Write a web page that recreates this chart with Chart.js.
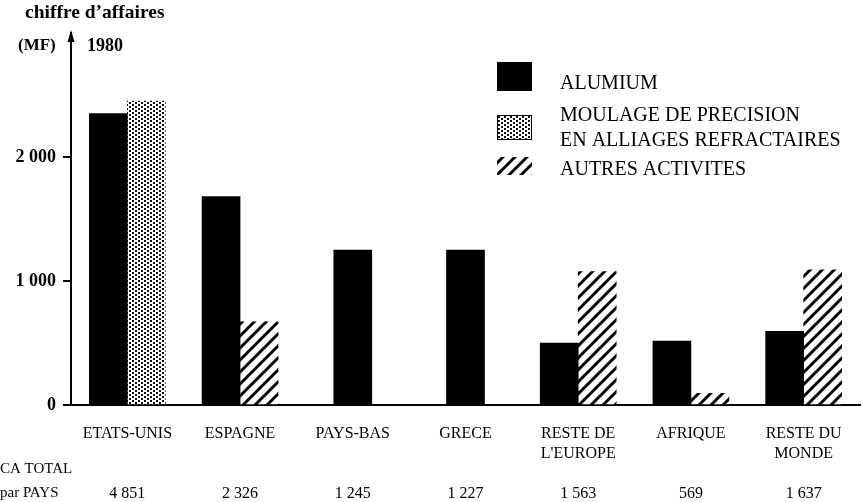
<!DOCTYPE html>
<html>
<head>
<meta charset="utf-8">
<script src="https://cdn.jsdelivr.net/npm/chart.js@4.4.1/dist/chart.umd.min.js"></script>
<style>
  html, body { margin: 0; padding: 0; background: #fff; }
  canvas { display: block; }
</style>
</head>
<body>
<canvas id="chart" width="863" height="502"></canvas>
<script>
/* global Chart */

// pays (une ligne par entrée de tableau)
var pays = [['ETATS-UNIS'], ['ESPAGNE'], ['PAYS-BAS'], ['GRECE'], ['RESTE DE', 'L\'EUROPE'], ['AFRIQUE'], ['RESTE DU', 'MONDE']];
// chiffre d'affaires 1980, MF
var alumium = [2350, 1680, 1250, 1250, 500, 515, 595];
var moulage = [2450, null, null, null, null, null, null];
var autres = [null, 670, null, null, 1075, 95, 1090];
var caTotal = [4851, 2326, 1245, 1227, 1563, 569, 1637];
var yTicks = [0, 1000, 2000];

function fmt(n) {
  return String(n).replace(/\B(?=(\d{3})+(?!\d))/g, ' ');
}

function stipple() {
  var c = document.createElement('canvas');
  c.width = 6; c.height = 4;
  var g = c.getContext('2d');
  g.fillStyle = '#fff';
  g.fillRect(0, 0, 6, 4);
  g.fillStyle = '#111';
  g.fillRect(0, 0, 2, 2);
  g.fillRect(3, 2, 2, 2);
  return g.createPattern(c, 'repeat');
}

function hatch() {
  var s = 12;
  var c = document.createElement('canvas');
  c.width = s; c.height = s;
  var g = c.getContext('2d');
  g.fillStyle = '#fff';
  g.fillRect(0, 0, s, s);
  g.strokeStyle = '#000';
  g.lineWidth = 3;
  g.beginPath();
  g.moveTo(-s / 2, s / 2); g.lineTo(s / 2, -s / 2);
  g.moveTo(0, s); g.lineTo(s, 0);
  g.moveTo(s / 2, s * 1.5); g.lineTo(s * 1.5, s / 2);
  g.stroke();
  return g.createPattern(c, 'repeat');
}

var labels = pays.map(function (p, i) {
  var l = p.slice();
  while (l.length < 3) l.push('');
  l.push(fmt(caTotal[i]));
  return l;
});

var serif = '"Liberation Serif", "DejaVu Serif", serif';
Chart.defaults.font.family = serif;
Chart.defaults.color = '#000';

var decor = {
  id: 'decor',
  afterDraw: function (chart) {
    var ctx = chart.ctx;
    var a = chart.chartArea;
    ctx.save();
    // fleche de l'axe
    ctx.fillStyle = '#000';
    ctx.beginPath();
    ctx.moveTo(a.left, a.top - 3);
    ctx.lineTo(a.left - 3.5, a.top + 9);
    ctx.lineTo(a.left + 3.5, a.top + 9);
    ctx.closePath();
    ctx.fill();

    ctx.textBaseline = 'middle';
    ctx.textAlign = 'left';
    ctx.font = 'bold 19.5px ' + serif;
    ctx.fillText('chiffre d\u2019affaires', 25, 13);
    ctx.font = 'bold 17px ' + serif;
    ctx.fillText('(MF)', 18, 46);
    ctx.font = 'bold 18px ' + serif;
    ctx.fillText('1980', 87, 46);

    ctx.font = '15px ' + serif;
    ctx.fillText('CA TOTAL', 0, 469);
    ctx.fillText('par PAYS', 0, 493);

    // legende
    var boxes = [
      { y: 62, h: 29, text: [84] },
      { y: 115, h: 25, text: [116, 141] },
      { y: 157, h: 18, text: [170] }
    ];
    chart.data.datasets.forEach(function (ds, i) {
      var b = boxes[i];
      ctx.fillStyle = ds.backgroundColor;
      ctx.fillRect(497, b.y, 35, b.h);
      if (i === 1) {
        ctx.strokeStyle = '#000';
        ctx.lineWidth = 1;
        ctx.strokeRect(497.5, b.y + 0.5, 34, b.h - 1);
      }
      ctx.fillStyle = '#000';
      ctx.font = '20px ' + serif;
      ds.label.split('\n').forEach(function (t, k) {
        ctx.fillText(t, 560, b.text[k]);
      });
    });
    ctx.restore();
  }
};

new Chart(document.getElementById('chart'), {
  type: 'bar',
  data: {
    labels: labels,
    datasets: [
      { label: 'ALUMIUM', data: alumium, backgroundColor: '#000' },
      { label: 'MOULAGE DE PRECISION\nEN ALLIAGES REFRACTAIRES', data: moulage, backgroundColor: stipple() },
      { label: 'AUTRES ACTIVITES', data: autres, backgroundColor: hatch() }
    ]
  },
  options: {
    responsive: false,
    animation: false,
    devicePixelRatio: 1,
    layout: { padding: { top: 33, right: 3, left: 0, bottom: 0 } },
    datasets: { bar: { skipNull: true, barThickness: 38 } },
    plugins: {
      legend: { display: false },
      tooltip: { enabled: false }
    },
    scales: {
      x: {
        grid: { display: false },
        border: { display: true, color: '#000', width: 2 },
        ticks: {
          padding: 11,
          maxRotation: 0,
          autoSkip: false,
          font: { size: 16, lineHeight: 1.25 }
        },
        afterFit: function (s) { s.height = 97; }
      },
      y: {
        min: 0,
        max: 3000,
        grid: { drawOnChartArea: false, tickLength: 8, color: '#000', lineWidth: 2 },
        border: { display: true, color: '#000', width: 2 },
        ticks: {
          padding: 7,
          font: { size: 18, weight: 'bold' },
          callback: function (v) { return fmt(v); }
        },
        afterBuildTicks: function (s) {
          s.ticks = yTicks.map(function (v) { return { value: v }; });
        },
        afterFit: function (s) { s.width = 71; }
      }
    }
  },
  plugins: [decor]
});
</script>
</body>
</html>
